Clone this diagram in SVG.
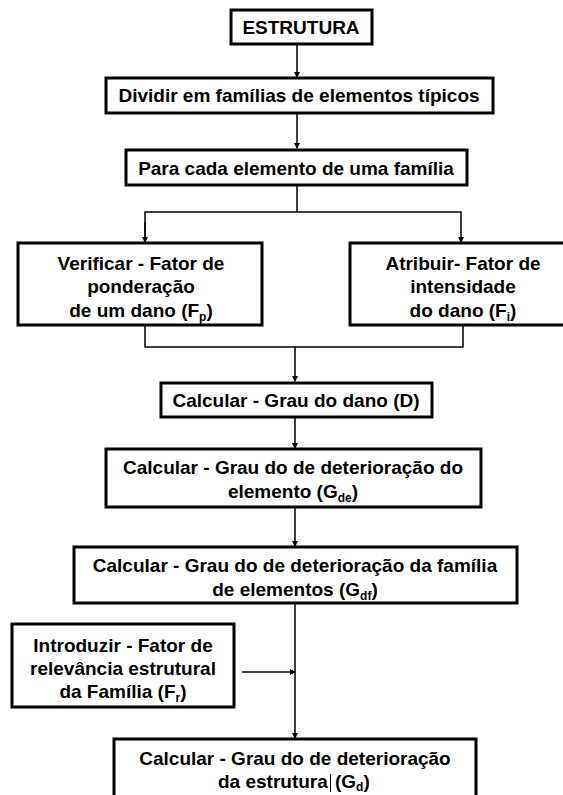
<svg xmlns="http://www.w3.org/2000/svg" width="563" height="795" viewBox="0 0 563 795">
<defs>
<marker id="ah" markerWidth="6" markerHeight="6" refX="5" refY="3" orient="auto" markerUnits="userSpaceOnUse">
<path d="M0,0 L6,3 L0,6 Z" fill="#000"/>
</marker>
<style>
.box{fill:#fff;stroke:#000;stroke-width:3}
.t{font-family:"Liberation Sans",Arial,sans-serif;font-weight:bold;font-size:19px;fill:#000;text-anchor:middle}
.s{font-size:12px}
.c{fill:none;stroke:#000;stroke-width:1.5}
</style>
</defs>
<rect width="563" height="795" fill="#fff"/>
<g id="connectors">
<line class="c" x1="297" y1="44" x2="297" y2="77" marker-end="url(#ah)"/>
<line class="c" x1="297" y1="113" x2="297" y2="148" marker-end="url(#ah)"/>
<polyline class="c" points="297,185 297,212"/>
<polyline class="c" points="145,242 145,212 461,212 461,242" marker-end="url(#ah)"/>
<line class="c" x1="145" y1="222" x2="145" y2="242" marker-end="url(#ah)"/>
<polyline class="c" points="145,325 145,347 463,347 463,325"/>
<line class="c" x1="295" y1="347" x2="295" y2="381" marker-end="url(#ah)"/>
<line class="c" x1="295" y1="417" x2="295" y2="448" marker-end="url(#ah)"/>
<line class="c" x1="295" y1="507" x2="295" y2="546" marker-end="url(#ah)"/>
<line class="c" x1="295" y1="603" x2="295" y2="738" marker-end="url(#ah)"/>
<line class="c" x1="242" y1="672" x2="295" y2="672" marker-end="url(#ah)"/>
</g>
<g id="n1"><rect class="box" x="231" y="10" width="141" height="34"/><text class="t" x="301" y="34">ESTRUTURA</text></g>
<g id="n2"><rect class="box" x="106" y="78" width="387" height="35"/><text class="t" x="299" y="102">Dividir em famílias de elementos típicos</text></g>
<g id="n3"><rect class="box" x="126" y="150" width="341" height="35"/><text class="t" x="296" y="175">Para cada elemento de uma família</text></g>
<g id="n4"><rect class="box" x="18" y="243" width="244" height="82"/>
<text class="t" x="141" y="270">Verificar - Fator de</text>
<text class="t" x="141" y="293">ponderação</text>
<text class="t" x="141" y="317">de um dano (F<tspan class="s" dy="4">p</tspan><tspan dy="-4">)</tspan></text></g>
<g id="n5"><rect class="box" x="350" y="243" width="230" height="82"/>
<text class="t" x="463" y="270">Atribuir- Fator de</text>
<text class="t" x="463" y="293">intensidade</text>
<text class="t" x="463" y="317">do dano (F<tspan class="s" dy="4">i</tspan><tspan dy="-4">)</tspan></text></g>
<g id="n6"><rect class="box" x="161" y="383" width="271" height="34"/><text class="t" x="296" y="407">Calcular - Grau do dano (D)</text></g>
<g id="n7"><rect class="box" x="106" y="449" width="375" height="58"/>
<text class="t" x="293" y="474">Calcular - Grau do de deterioração do</text>
<text class="t" x="293" y="498">elemento (G<tspan class="s" dy="4">de</tspan><tspan dy="-4">)</tspan></text></g>
<g id="n8"><rect class="box" x="74" y="547" width="443" height="56"/>
<text class="t" x="295" y="572">Calcular - Grau do de deterioração da família</text>
<text class="t" x="295" y="596">de elementos (G<tspan class="s" dy="4">df</tspan><tspan dy="-4">)</tspan></text></g>
<g id="n9"><rect class="box" x="12" y="624" width="222" height="83"/>
<text class="t" x="123" y="652">Introduzir - Fator de</text>
<text class="t" x="123" y="675">relevância estrutural</text>
<text class="t" x="123" y="698">da Família (F<tspan class="s" dy="4">r</tspan><tspan dy="-4">)</tspan></text></g>
<g id="n10"><rect class="box" x="114" y="739" width="362" height="70"/>
<text class="t" x="295" y="765">Calcular - Grau do de deterioração</text>
<text class="t" x="218" y="788" style="text-anchor:start">da estrutura<tspan x="335">(G</tspan><tspan class="s" dy="3">d</tspan><tspan dy="-3">)</tspan></text>
<line x1="330.500" y1="774" x2="330.500" y2="792" stroke="#000" stroke-width="1"/></g>
</svg>
